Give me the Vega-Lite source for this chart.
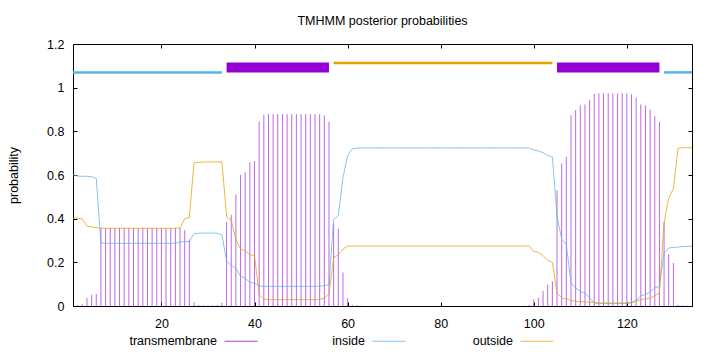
{
  "$schema": "https://vega.github.io/schema/vega-lite/v6.json",
  "width": 619,
  "height": 262,
  "autosize": {"type": "none"},
  "padding": {"left": 73, "top": 44, "right": 28, "bottom": 46},
  "background": "white",
  "title": {"text": "TMHMM posterior probabilities", "fontSize": 12.5, "fontWeight": "normal", "font": "Liberation Sans", "color": "#000", "offset": 11},
  "config": {
    "view": {"stroke": "#000", "strokeWidth": 1},
    "font": "Liberation Sans",
    "axis": {"labelFont": "Liberation Sans", "labelFontSize": 12.5, "labelColor": "#000", "titleFont": "Liberation Sans", "titleFontSize": 12.5, "titleFontWeight": "normal", "titleColor": "#000", "grid": false, "domain": false, "tickColor": "#000", "tickSize": -4, "tickWidth": 1},
    "legend": {"labelFont": "Liberation Sans", "labelFontSize": 12.5, "labelColor": "#000"}
  },
  "datasets": {
    "probs": [
      {"i":1,"tm":0,"inside":0.601,"outside":0.402},
      {"i":2,"tm":0.005,"inside":0.595,"outside":0.402},
      {"i":3,"tm":0.008,"inside":0.594,"outside":0.399},
      {"i":4,"tm":0.037,"inside":0.594,"outside":0.366},
      {"i":5,"tm":0.052,"inside":0.593,"outside":0.362},
      {"i":6,"tm":0.055,"inside":0.584,"outside":0.359},
      {"i":7,"tm":0.356,"inside":0.289,"outside":0.357},
      {"i":8,"tm":0.357,"inside":0.287,"outside":0.356},
      {"i":9,"tm":0.357,"inside":0.287,"outside":0.356},
      {"i":10,"tm":0.357,"inside":0.287,"outside":0.356},
      {"i":11,"tm":0.357,"inside":0.287,"outside":0.356},
      {"i":12,"tm":0.357,"inside":0.287,"outside":0.356},
      {"i":13,"tm":0.357,"inside":0.287,"outside":0.356},
      {"i":14,"tm":0.357,"inside":0.287,"outside":0.356},
      {"i":15,"tm":0.357,"inside":0.287,"outside":0.356},
      {"i":16,"tm":0.357,"inside":0.287,"outside":0.356},
      {"i":17,"tm":0.357,"inside":0.287,"outside":0.356},
      {"i":18,"tm":0.357,"inside":0.287,"outside":0.356},
      {"i":19,"tm":0.357,"inside":0.287,"outside":0.356},
      {"i":20,"tm":0.357,"inside":0.287,"outside":0.356},
      {"i":21,"tm":0.357,"inside":0.287,"outside":0.356},
      {"i":22,"tm":0.357,"inside":0.287,"outside":0.356},
      {"i":23,"tm":0.357,"inside":0.288,"outside":0.356},
      {"i":24,"tm":0.357,"inside":0.293,"outside":0.357},
      {"i":25,"tm":0.347,"inside":0.295,"outside":0.4},
      {"i":26,"tm":0.304,"inside":0.295,"outside":0.405},
      {"i":27,"tm":0.017,"inside":0.332,"outside":0.656},
      {"i":28,"tm":0.005,"inside":0.333,"outside":0.658},
      {"i":29,"tm":0.004,"inside":0.334,"outside":0.659},
      {"i":30,"tm":0.003,"inside":0.334,"outside":0.66},
      {"i":31,"tm":0.003,"inside":0.334,"outside":0.66},
      {"i":32,"tm":0.005,"inside":0.333,"outside":0.66},
      {"i":33,"tm":0.014,"inside":0.326,"outside":0.66},
      {"i":34,"tm":0.384,"inside":0.205,"outside":0.41},
      {"i":35,"tm":0.417,"inside":0.185,"outside":0.393},
      {"i":36,"tm":0.51,"inside":0.174,"outside":0.304},
      {"i":37,"tm":0.6,"inside":0.136,"outside":0.261},
      {"i":38,"tm":0.613,"inside":0.127,"outside":0.252},
      {"i":39,"tm":0.659,"inside":0.108,"outside":0.235},
      {"i":40,"tm":0.663,"inside":0.105,"outside":0.231},
      {"i":41,"tm":0.845,"inside":0.092,"outside":0.052},
      {"i":42,"tm":0.876,"inside":0.09,"outside":0.032},
      {"i":43,"tm":0.879,"inside":0.09,"outside":0.029},
      {"i":44,"tm":0.879,"inside":0.09,"outside":0.029},
      {"i":45,"tm":0.879,"inside":0.09,"outside":0.029},
      {"i":46,"tm":0.879,"inside":0.09,"outside":0.029},
      {"i":47,"tm":0.879,"inside":0.09,"outside":0.029},
      {"i":48,"tm":0.879,"inside":0.09,"outside":0.029},
      {"i":49,"tm":0.879,"inside":0.09,"outside":0.029},
      {"i":50,"tm":0.879,"inside":0.09,"outside":0.029},
      {"i":51,"tm":0.879,"inside":0.09,"outside":0.029},
      {"i":52,"tm":0.879,"inside":0.09,"outside":0.029},
      {"i":53,"tm":0.879,"inside":0.09,"outside":0.029},
      {"i":54,"tm":0.879,"inside":0.091,"outside":0.031},
      {"i":55,"tm":0.873,"inside":0.093,"outside":0.035},
      {"i":56,"tm":0.844,"inside":0.098,"outside":0.056},
      {"i":57,"tm":0.378,"inside":0.396,"outside":0.22},
      {"i":58,"tm":0.353,"inside":0.414,"outside":0.235},
      {"i":59,"tm":0.154,"inside":0.587,"outside":0.261},
      {"i":60,"tm":0.035,"inside":0.69,"outside":0.274},
      {"i":61,"tm":0.005,"inside":0.72,"outside":0.275},
      {"i":62,"tm":0.003,"inside":0.723,"outside":0.275},
      {"i":63,"tm":0.002,"inside":0.724,"outside":0.275},
      {"i":64,"tm":0,"inside":0.724,"outside":0.275},
      {"i":65,"tm":0,"inside":0.724,"outside":0.275},
      {"i":66,"tm":0,"inside":0.724,"outside":0.275},
      {"i":67,"tm":0,"inside":0.724,"outside":0.275},
      {"i":68,"tm":0,"inside":0.724,"outside":0.275},
      {"i":69,"tm":0,"inside":0.724,"outside":0.275},
      {"i":70,"tm":0,"inside":0.724,"outside":0.275},
      {"i":71,"tm":0,"inside":0.724,"outside":0.275},
      {"i":72,"tm":0,"inside":0.724,"outside":0.275},
      {"i":73,"tm":0,"inside":0.724,"outside":0.275},
      {"i":74,"tm":0,"inside":0.724,"outside":0.275},
      {"i":75,"tm":0,"inside":0.724,"outside":0.275},
      {"i":76,"tm":0,"inside":0.724,"outside":0.275},
      {"i":77,"tm":0,"inside":0.724,"outside":0.275},
      {"i":78,"tm":0,"inside":0.724,"outside":0.275},
      {"i":79,"tm":0,"inside":0.724,"outside":0.275},
      {"i":80,"tm":0,"inside":0.724,"outside":0.275},
      {"i":81,"tm":0,"inside":0.724,"outside":0.275},
      {"i":82,"tm":0,"inside":0.724,"outside":0.275},
      {"i":83,"tm":0,"inside":0.724,"outside":0.275},
      {"i":84,"tm":0,"inside":0.724,"outside":0.275},
      {"i":85,"tm":0,"inside":0.724,"outside":0.275},
      {"i":86,"tm":0,"inside":0.724,"outside":0.275},
      {"i":87,"tm":0,"inside":0.724,"outside":0.275},
      {"i":88,"tm":0,"inside":0.724,"outside":0.275},
      {"i":89,"tm":0,"inside":0.724,"outside":0.275},
      {"i":90,"tm":0,"inside":0.724,"outside":0.275},
      {"i":91,"tm":0,"inside":0.724,"outside":0.275},
      {"i":92,"tm":0,"inside":0.724,"outside":0.275},
      {"i":93,"tm":0,"inside":0.724,"outside":0.275},
      {"i":94,"tm":0,"inside":0.724,"outside":0.275},
      {"i":95,"tm":0,"inside":0.724,"outside":0.275},
      {"i":96,"tm":0,"inside":0.724,"outside":0.275},
      {"i":97,"tm":0,"inside":0.724,"outside":0.275},
      {"i":98,"tm":0.002,"inside":0.724,"outside":0.275},
      {"i":99,"tm":0.005,"inside":0.724,"outside":0.275},
      {"i":100,"tm":0.032,"inside":0.714,"outside":0.25},
      {"i":101,"tm":0.038,"inside":0.71,"outside":0.246},
      {"i":102,"tm":0.069,"inside":0.702,"outside":0.231},
      {"i":103,"tm":0.098,"inside":0.689,"outside":0.209},
      {"i":104,"tm":0.113,"inside":0.683,"outside":0.2},
      {"i":105,"tm":0.53,"inside":0.41,"outside":0.06},
      {"i":106,"tm":0.653,"inside":0.307,"outside":0.037},
      {"i":107,"tm":0.683,"inside":0.281,"outside":0.032},
      {"i":108,"tm":0.873,"inside":0.105,"outside":0.026},
      {"i":109,"tm":0.897,"inside":0.083,"outside":0.021},
      {"i":110,"tm":0.919,"inside":0.066,"outside":0.02},
      {"i":111,"tm":0.923,"inside":0.06,"outside":0.019},
      {"i":112,"tm":0.943,"inside":0.037,"outside":0.018},
      {"i":113,"tm":0.971,"inside":0.014,"outside":0.016},
      {"i":114,"tm":0.974,"inside":0.011,"outside":0.014},
      {"i":115,"tm":0.974,"inside":0.011,"outside":0.014},
      {"i":116,"tm":0.974,"inside":0.011,"outside":0.014},
      {"i":117,"tm":0.974,"inside":0.011,"outside":0.014},
      {"i":118,"tm":0.974,"inside":0.011,"outside":0.014},
      {"i":119,"tm":0.974,"inside":0.011,"outside":0.014},
      {"i":120,"tm":0.974,"inside":0.011,"outside":0.014},
      {"i":121,"tm":0.969,"inside":0.017,"outside":0.014},
      {"i":122,"tm":0.954,"inside":0.025,"outside":0.022},
      {"i":123,"tm":0.923,"inside":0.047,"outside":0.03},
      {"i":124,"tm":0.919,"inside":0.052,"outside":0.032},
      {"i":125,"tm":0.9,"inside":0.065,"outside":0.037},
      {"i":126,"tm":0.87,"inside":0.083,"outside":0.047},
      {"i":127,"tm":0.844,"inside":0.09,"outside":0.06},
      {"i":128,"tm":0.384,"inside":0.243,"outside":0.38},
      {"i":129,"tm":0.238,"inside":0.266,"outside":0.495},
      {"i":130,"tm":0.197,"inside":0.268,"outside":0.537},
      {"i":131,"tm":0.005,"inside":0.27,"outside":0.722},
      {"i":132,"tm":0.003,"inside":0.272,"outside":0.725},
      {"i":133,"tm":0.002,"inside":0.273,"outside":0.725},
      {"i":134,"tm":0.001,"inside":0.274,"outside":0.725}
    ],
    "segments": [
      {"region":"inside","start":1,"end":33},
      {"region":"TMhelix","start":34,"end":56},
      {"region":"outside","start":57,"end":104},
      {"region":"TMhelix","start":105,"end":127},
      {"region":"inside","start":128,"end":134}
    ]
  },
  "layer": [
    {
      "data": {"name": "probs"},
      "mark": {"type": "rule", "strokeWidth": 1, "opacity": 0.6},
      "encoding": {
        "x": {"field": "i", "type": "quantitative", "scale": {"domain": [1, 134], "nice": false, "zero": false},
              "axis": {"orient": "bottom", "title": null, "values": [20, 40, 60, 80, 100, 120], "labelPadding": 15}},
        "y": {"field": "tm", "type": "quantitative", "scale": {"domain": [0, 1.2], "nice": false},
              "axis": {"orient": "left", "title": "probability", "values": [0, 0.2, 0.4, 0.6, 0.8, 1, 1.2], "format": "~g", "labelPadding": 13, "titleX": -56, "titleY": 131, "titleBaseline": "alphabetic", "titleAngle": -90, "titleAlign": "center"}},
        "y2": {"datum": 0},
        "color": {"datum": "transmembrane", "type": "nominal",
                  "scale": {"domain": ["transmembrane", "inside", "outside"], "range": ["#9400D3", "#56B4E9", "#E69F00"]},
                  "legend": {"title": null, "orient": "none", "legendX": 151, "legendY": 280, "direction": "horizontal", "columns": 3, "gridAlign": "all",
                             "symbolType": "stroke", "symbolSize": 1089, "symbolStrokeWidth": 1, "symbolOpacity": 0.6,
                             "labelAlign": "right", "labelOffset": -41, "columnPadding": 64, "labelFontSize": 12.5}}
      }
    },
    {
      "data": {"name": "probs"},
      "mark": {"type": "line", "strokeWidth": 1, "opacity": 0.75},
      "encoding": {
        "x": {"field": "i", "type": "quantitative", "axis": {"orient": "top", "title": null, "labels": false, "values": [20, 40, 60, 80, 100, 120]}},
        "y": {"field": "inside", "type": "quantitative", "axis": {"orient": "right", "title": null, "labels": false, "values": [0, 0.2, 0.4, 0.6, 0.8, 1, 1.2]}},
        "color": {"datum": "inside", "type": "nominal"}
      }
    },
    {
      "data": {"name": "probs"},
      "mark": {"type": "line", "strokeWidth": 1, "opacity": 0.75},
      "encoding": {
        "x": {"field": "i", "type": "quantitative", "axis": null},
        "y": {"field": "outside", "type": "quantitative", "axis": null},
        "color": {"datum": "outside", "type": "nominal"}
      }
    },
    {
      "data": {"name": "segments"},
      "transform": [{"filter": "datum.region === 'inside'"}],
      "mark": {"type": "rule", "strokeWidth": 2.5, "color": "#56B4E9", "strokeCap": "butt"},
      "encoding": {
        "x": {"field": "start", "type": "quantitative", "axis": null},
        "x2": {"field": "end"},
        "y": {"datum": 1.07, "type": "quantitative", "axis": null}
      }
    },
    {
      "data": {"name": "segments"},
      "transform": [{"filter": "datum.region === 'TMhelix'"}],
      "mark": {"type": "rule", "strokeWidth": 10, "color": "#9400D3", "strokeCap": "butt"},
      "encoding": {
        "x": {"field": "start", "type": "quantitative", "axis": null},
        "x2": {"field": "end"},
        "y": {"datum": 1.092, "type": "quantitative", "axis": null}
      }
    },
    {
      "data": {"name": "segments"},
      "transform": [{"filter": "datum.region === 'outside'"}],
      "mark": {"type": "rule", "strokeWidth": 2.5, "color": "#E69F00", "strokeCap": "butt"},
      "encoding": {
        "x": {"field": "start", "type": "quantitative", "axis": null},
        "x2": {"field": "end"},
        "y": {"datum": 1.113, "type": "quantitative", "axis": null}
      }
    }
  ],
  "resolve": {"axis": {"x": "independent", "y": "independent"}}
}
